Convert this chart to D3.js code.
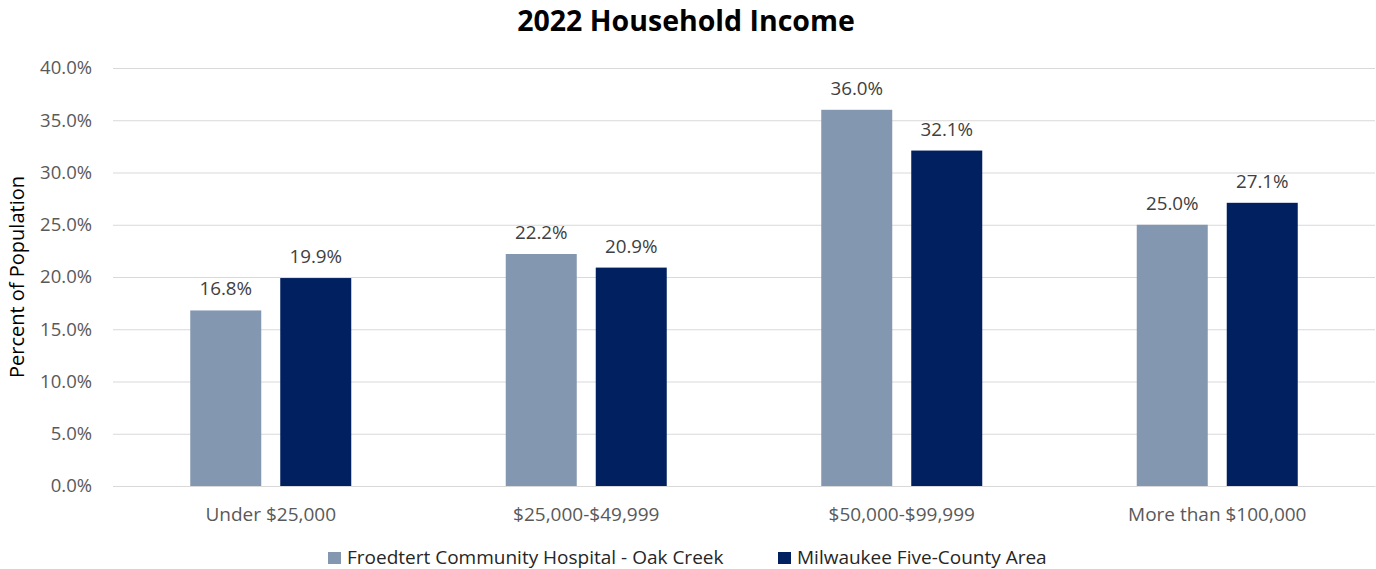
<!DOCTYPE html>
<html><head><meta charset="utf-8">
<script src="https://cdn.jsdelivr.net/npm/d3@7"></script>
<style>body{margin:0;background:#fff}svg{display:block}text{font-family:"Open Sans",sans-serif}</style>
</head><body><svg id="c" width="1376" height="569"></svg>
<script>
const categories=["Under $25,000","$25,000-$49,999","$50,000-$99,999","More than $100,000"];
const seriesNames=["Froedtert Community Hospital - Oak Creek","Milwaukee Five-County Area"];
const hospital=[16.8,22.2,36.0,25.0];
const milwaukee=[19.9,20.9,32.1,27.1];
const yTicks=[0,5,10,15,20,25,30,35,40];
const colors=["#8497B0","#002060"];

const svg=d3.select("#c");
const L=113,R=1375,T=68,B=486;
const x=d3.scaleBand().domain(categories).range([L,R]);
const y=d3.scaleLinear().domain([0,40]).range([B,T]);
const bw=71,gap=19;

svg.append("text").attr("x",686).attr("y",31).attr("text-anchor","middle")
 .attr("font-size",28.5).attr("font-weight","bold").attr("fill","#000").text("2022 Household Income");

const gy=svg.append("g").attr("transform",`translate(${L},0)`)
 .call(d3.axisLeft(y).tickValues(yTicks).tickSize(-(R-L)).tickPadding(21).tickFormat(d=>d.toFixed(1)+"%"));
gy.select(".domain").remove();
gy.selectAll("line").attr("stroke","#d9d9d9");
gy.selectAll("text").attr("font-size",18.5).attr("fill","#595959");

const gx=svg.append("g").attr("transform",`translate(0,${B})`)
 .call(d3.axisBottom(x).tickSize(0).tickPadding(22));
gx.select(".domain").attr("stroke","#d9d9d9");
gx.selectAll("text").attr("font-size",19).attr("fill","#595959");

svg.append("text").attr("transform",`translate(24,${(T+B)/2}) rotate(-90)`).attr("text-anchor","middle")
 .attr("font-size",20).attr("fill","#000").text("Percent of Population");

const series=[hospital,milwaukee];
series.forEach((vals,si)=>{
  const off=si===0?-(gap/2+bw):gap/2;
  const g=svg.append("g");
  g.selectAll("rect").data(vals).join("rect")
   .attr("x",(d,i)=>x(categories[i])+x.bandwidth()/2+off)
   .attr("y",d=>y(d)).attr("width",bw).attr("height",d=>B-y(d)).attr("fill",colors[si]);
  g.selectAll("text").data(vals).join("text")
   .attr("x",(d,i)=>x(categories[i])+x.bandwidth()/2+off+bw/2)
   .attr("y",d=>y(d)-15).attr("text-anchor","middle").attr("font-size",18.8).attr("fill","#404040")
   .text(d=>d.toFixed(1)+"%");
});

const leg=[{x:328,tx:347},{x:778,tx:797}];
seriesNames.forEach((n,i)=>{
  svg.append("rect").attr("x",leg[i].x).attr("y",552).attr("width",13).attr("height",12).attr("fill",colors[i]);
  svg.append("text").attr("x",leg[i].tx).attr("y",564).attr("font-size",19).attr("fill","#262626").text(n);
});
</script></body></html>
